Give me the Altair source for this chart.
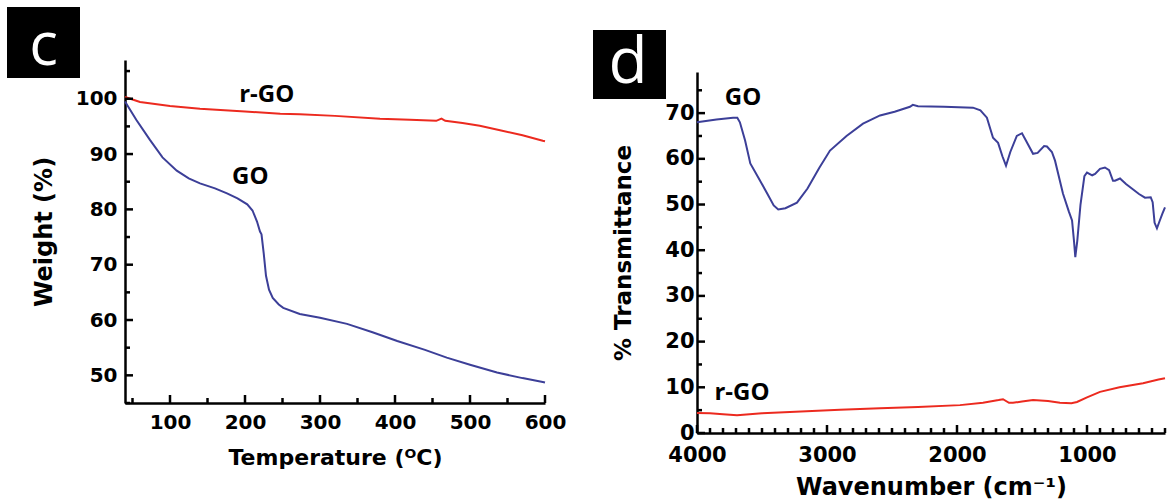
import altair as alt
import pandas as pd

# ---------------- data ----------------
tga_temp_go = [40, 55, 73, 90, 109, 125, 140, 160, 176, 190, 203, 210, 216, 220, 222, 225, 228,
               232, 237, 245, 251, 273, 300, 336, 370, 403, 440, 469, 500, 536, 570, 597, 600]
tga_weight_go = [99.5, 96.2, 92.6, 89.4, 87.0, 85.6, 84.7, 83.8, 82.9, 82.0, 80.9, 79.8, 77.8, 76.0,
                 75.5, 72.0, 68.0, 65.5, 64.0, 62.8, 62.2, 61.1, 60.4, 59.3, 57.8, 56.2, 54.6, 53.2,
                 51.9, 50.5, 49.5, 48.8, 48.7]
tga_temp_rgo = [40, 60, 100, 140, 200, 247, 273, 320, 380, 420, 455, 462, 467, 490, 513, 540, 570, 597, 600]
tga_weight_rgo = [100.3, 99.4, 98.7, 98.2, 97.7, 97.3, 97.2, 96.9, 96.4, 96.2, 96.0, 96.4, 96.0,
                  95.6, 95.1, 94.3, 93.4, 92.4, 92.3]

ftir_wn_go = [4000, 3850, 3723, 3690, 3670, 3630, 3590, 3520, 3460, 3410, 3375, 3320, 3231, 3150,
              3060, 2977, 2850, 2723, 2592, 2480, 2362, 2340, 2300, 2100, 1877, 1820, 1770, 1723,
              1684, 1650, 1623, 1590, 1540, 1500, 1470, 1415, 1380, 1330, 1308, 1270, 1246, 1185,
              1140, 1115, 1100, 1090, 1075, 1050, 1020, 1000, 960, 938, 900, 862, 830, 800, 785,
              746, 700, 650, 600, 554, 510, 495, 480, 462, 440, 420, 400]
ftir_t_go = [68.0, 68.6, 69.0, 69.0, 68.0, 64.0, 59.0, 55.5, 52.4, 49.8, 48.9, 49.2, 50.4, 53.5,
             58.0, 61.8, 65.0, 67.7, 69.5, 70.3, 71.4, 71.8, 71.5, 71.4, 71.2, 70.6, 69.0, 64.6,
             63.5, 60.5, 58.5, 61.5, 65.0, 65.6, 64.0, 61.1, 61.3, 62.8, 62.7, 61.5, 59.6, 52.4,
             48.5, 46.5, 42.0, 38.5, 42.0, 50.0, 56.2, 57.0, 56.4, 56.7, 57.8, 58.1, 57.5, 55.2,
             55.2, 55.7, 54.5, 53.4, 52.3, 51.5, 51.6, 50.5, 46.0, 44.8, 46.5, 48.0, 49.4]
ftir_wn_rgo = [4000, 3900, 3800, 3692, 3500, 3200, 2900, 2592, 2300, 1977, 1800, 1680, 1646, 1600,
               1569, 1500, 1415, 1300, 1208, 1120, 1077, 1000, 900, 750, 569, 450, 400]
ftir_t_rgo = [4.4, 4.3, 4.1, 3.9, 4.3, 4.7, 5.1, 5.4, 5.7, 6.1, 6.6, 7.2, 7.4, 6.6, 6.6, 6.9, 7.2,
              7.0, 6.6, 6.5, 6.8, 7.8, 9.0, 10.0, 10.9, 11.7, 12.0]

series_names = ["GO", "r-GO"]
series_colors = ["#3c3f98", "#ec2a1f"]

left_x_major = [100, 200, 300, 400, 500, 600]
left_x_minor = [50, 150, 250, 350, 450, 550]
left_y_major = [50, 60, 70, 80, 90, 100]
left_y_minor = [45, 55, 65, 75, 85, 95, 105]
right_x_major = [4000, 3000, 2000, 1000]
right_x_minor = [3900, 3800, 3700, 3600, 3500, 3400, 3300, 3200, 3100, 2900, 2800, 2700, 2600,
                 2500, 2400, 2300, 2200, 2100, 1900, 1800, 1700, 1600, 1500, 1400, 1300, 1200,
                 1100, 900, 800, 700, 600, 500, 400]
right_y_major = [0, 10, 20, 30, 40, 50, 60, 70]
right_y_minor = [5, 15, 25, 35, 45, 55, 65, 75]

left_label_text = ["r-GO", "GO"]
left_label_x = [229, 207]
left_label_y = [100.7, 85.9]
right_label_text = ["GO", "r-GO"]
right_label_x = [3646, 3654]
right_label_y = [73.4, 8.7]

FONT = "DejaVu Sans"
LBL_FONT = "Open Sans"


def series_df(xs_a, ys_a, xs_b, ys_b):
    return pd.DataFrame({
        "x": list(xs_a) + list(xs_b),
        "y": list(ys_a) + list(ys_b),
        "series": ["GO"] * len(xs_a) + ["r-GO"] * len(xs_b),
    })


def panel(df, xscale, yscale, w, h, xmaj, xmin, ymaj, ymin, xtitle, ytitle,
          lab_df, tag, box, tag_pos, tag_size, lsize, xlp, ylp, xtp, ytp, xts, yts):
    main_x = alt.Axis(orient="bottom", values=xmaj, format="d", ticks=False, grid=False,
                      domainColor="black", domainWidth=2.5, labelFont=FONT, labelFontSize=lsize,
                      labelFontWeight="bold", labelColor="black", labelPadding=xlp,
                      labelFlush=False, title=xtitle, titleFont=FONT, titleFontSize=xts,
                      titleFontWeight="bold", titleColor="black", titlePadding=xtp)
    main_y = alt.Axis(orient="left", values=ymaj, format="d", ticks=False, grid=False,
                      domainColor="black", domainWidth=2.5, labelFont=FONT, labelFontSize=lsize,
                      labelFontWeight="bold", labelColor="black", labelPadding=ylp, title=ytitle,
                      titleFont=FONT, titleFontSize=yts, titleFontWeight="bold",
                      titleColor="black", titlePadding=ytp)
    color = alt.Color("series:N", scale=alt.Scale(domain=series_names, range=series_colors), legend=None)
    lines = alt.Chart(df).mark_line(strokeWidth=2).encode(
        x=alt.X("x:Q", scale=xscale, axis=main_x),
        y=alt.Y("y:Q", scale=yscale, axis=main_y),
        color=color,
    )

    def xticks(vals, size):
        return alt.Chart(pd.DataFrame({"v": vals})).mark_rule(
            color="black", strokeWidth=2.5).encode(
            x=alt.X("v:Q", scale=xscale, axis=None), y=alt.value(h), y2=alt.value(h - size))

    def yticks(vals, size):
        return alt.Chart(pd.DataFrame({"v": vals})).mark_rule(
            color="black", strokeWidth=2.5).encode(
            y=alt.Y("v:Q", scale=yscale, axis=None), x=alt.value(0), x2=alt.value(size))

    labels = alt.Chart(lab_df).mark_text(font=LBL_FONT, fontSize=24, fontWeight="bold",
                                          color="black").encode(
        x=alt.X("x:Q", scale=xscale, axis=None),
        y=alt.Y("y:Q", scale=yscale, axis=None),
        text="text:N",
    )
    tag_df = pd.DataFrame({"t": [tag]})
    rect = alt.Chart(tag_df).mark_rect(color="black").encode(
        x=alt.value(box[0]), x2=alt.value(box[1]), y=alt.value(box[2]), y2=alt.value(box[3]))
    tag_txt = alt.Chart(tag_df).mark_text(font=LBL_FONT, fontSize=tag_size, color="white",
                                          align="center", baseline="alphabetic").encode(
        x=alt.value(tag_pos[0]), y=alt.value(tag_pos[1]), text="t:N")

    return alt.layer(lines, xticks(xmaj, 8), xticks(xmin, 5), yticks(ymaj, 8), yticks(ymin, 5),
                     labels, rect, tag_txt).resolve_axis(
        x="independent", y="independent").properties(width=w, height=h)


left_df = series_df(tga_temp_go, tga_weight_go, tga_temp_rgo, tga_weight_rgo)
right_df = series_df(ftir_wn_go, ftir_t_go, ftir_wn_rgo, ftir_t_rgo)
left_lab = pd.DataFrame({"text": left_label_text, "x": left_label_x, "y": left_label_y})
right_lab = pd.DataFrame({"text": right_label_text, "x": right_label_x, "y": right_label_y})

left = panel(left_df,
             alt.Scale(domain=[40, 600], nice=False, zero=False),
             alt.Scale(domain=[45, 107], nice=False, zero=False),
             420, 343, left_x_major, left_x_minor, left_y_major, left_y_minor,
             "Temperature (ᴼC)", "Weight (%)", left_lab, "c",
             [-118, -45, -53, 18], [-81.5, 5], 60, 20, 9, 8, 15, 19, 22, 24)

right = panel(right_df,
              alt.Scale(domain=[400, 4000], reverse=True, nice=False, zero=False),
              alt.Scale(domain=[0, 79], nice=False, zero=False),
              468, 361, right_x_major, right_x_minor, right_y_major, right_y_minor,
              "Wavenumber (cm⁻¹)", "% Transmittance", right_lab, "d",
              [-104, -31, -42, 27], [-69, 11], 64, 21, 11, 3, 10, 29, 24, 23)

spacer = alt.Chart(pd.DataFrame({"v": [0]})).mark_point(opacity=0).encode(
    x=alt.X("v:Q", axis=None), y=alt.Y("v:Q", axis=None)).properties(width=468, height=12)

right_col = alt.vconcat(spacer, right, spacing=0, bounds="flush")

chart = alt.hconcat(left, right_col, spacing=152, bounds="flush").properties(
    padding={"left": 7, "top": 7, "right": 0, "bottom": 0},
    background="white",
).configure_view(stroke=None)

chart.save("out.html", embed_options={"renderer": "svg", "actions": False})
